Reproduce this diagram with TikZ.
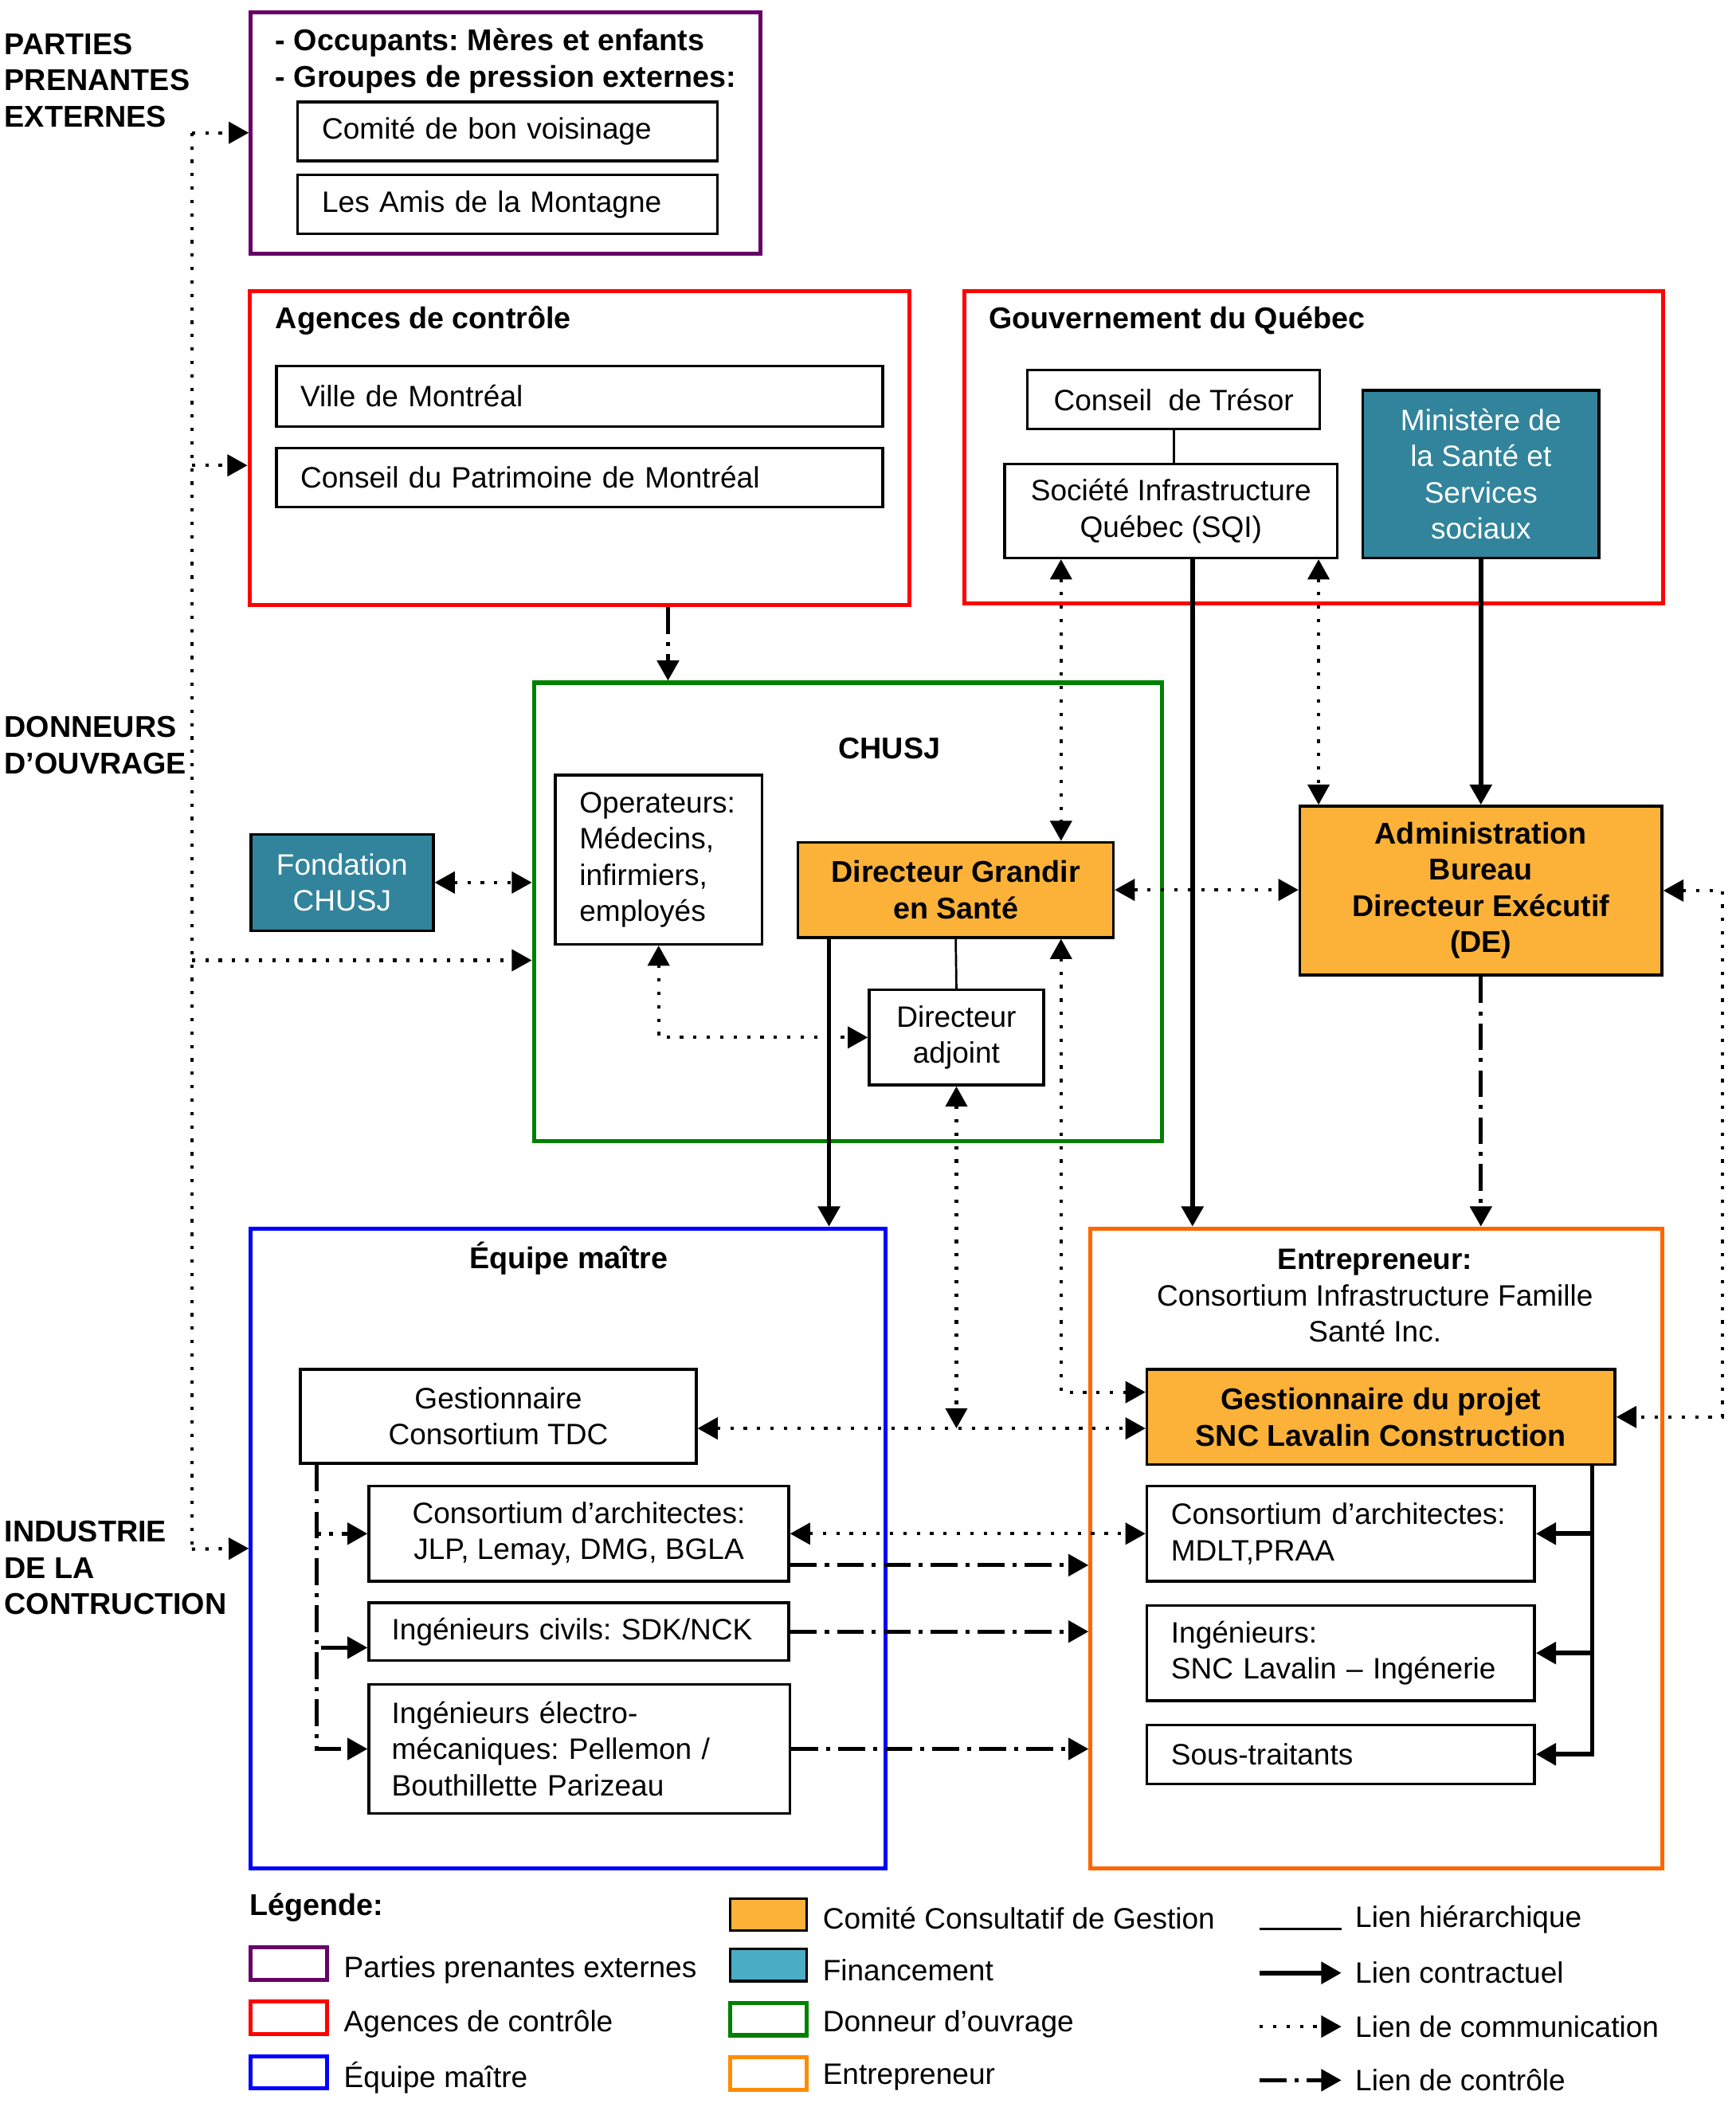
\documentclass[tikz,border=0pt]{standalone}
\usepackage{fontspec}
\setmainfont{Liberation Sans}
\usetikzlibrary{arrows.meta}
\definecolor{ppviolet}{RGB}{102,0,102}
\definecolor{acred}{RGB}{255,0,0}
\definecolor{chgreen}{RGB}{0,128,0}
\definecolor{emblue}{RGB}{0,0,255}
\definecolor{entorange}{RGB}{255,102,0}
\definecolor{lgorange}{RGB}{255,140,0}
\definecolor{ccgorange}{RGB}{252,178,56}
\definecolor{fintealdark}{RGB}{49,132,155}
\definecolor{finteal}{RGB}{75,172,198}
\frenchspacing
\begin{document}
\begin{tikzpicture}[x=0.5pt, y=-0.5pt,
   every node/.style={font=\fontsize{11}{13.5}\selectfont},
   box/.style={draw, line width=1pt, inner sep=0pt, align=center},
   lbox/.style={box, inner xsep=9pt, align=left},
   grp/.style={draw, line width=1.5pt, inner sep=0pt},
   ttl/.style={font=\fontsize{11.2}{13.5}\selectfont\bfseries, align=left, inner sep=0pt},
   ccg/.style={box, fill=ccgorange, font=\fontsize{11.2}{13.5}\selectfont\bfseries},
   fin/.style={box, fill=fintealdark, text=white},
   sw/.style={draw, line width=1.5pt, minimum width=28.5pt, minimum height=12pt, inner sep=0pt},
   hier/.style={line width=0.8pt},
   contr/.style={line width=1.7pt, -{Triangle[length=7.5pt,width=8pt]}},
   comm/.style={line width=1.25pt, dash pattern=on 1.25pt off 3.75pt},
   ctrl/.style={line width=1.5pt, dash pattern=on 10pt off 3pt on 1.5pt off 3pt},
   toarr/.style={-{Triangle[length=7.5pt,width=8pt]}},
   botharr/.style={{Triangle[length=7.5pt,width=8pt]}-{Triangle[length=7.5pt,width=8pt]}}]
   \useasboundingbox (0,0) rectangle (1294,1568);
   % left labels
   \node[ttl, anchor=west] (lblPP) at (3,60) {PARTIES\\PRENANTES\\EXTERNES};
   \node[ttl, anchor=west] (lblDO) at (3,555.5) {DONNEURS\\D’OUVRAGE};
   \node[ttl, anchor=west] (lblIC) at (3,1169) {INDUSTRIE\\DE LA\\CONTRUCTION};
   % parties prenantes
   \node[grp, draw=ppviolet, minimum width=190pt, minimum height=90pt] (pp) at (377,99) {};
   \node[ttl, anchor=west] (ppT) at (205,45.5) {- Occupants: Mères et enfants\\- Groupes de pression externes:};
   \node[lbox, text width=138.5pt, minimum height=22pt] (cbv) at (378.5,98) {Comité de bon voisinage};
   \node[lbox, text width=138.5pt, minimum height=22pt] (lam) at (378.5,152.5) {Les Amis de la Montagne};
   % agences
   \node[grp, draw=acred, minimum width=246pt, minimum height=117pt] (ac) at (432,334) {};
   \node[ttl, anchor=west] (acT) at (205,239) {Agences de contrôle};
   \node[lbox, text width=208pt, minimum height=22.5pt] (vdm) at (432,295.5) {Ville de Montréal};
   \node[lbox, text width=208pt, minimum height=22pt] (cpm) at (432,356) {Conseil du Patrimoine de Montréal};
   % gouvernement
   \node[grp, draw=acred, minimum width=260.5pt, minimum height=116.5pt] (gq) at (979.5,333.5) {};
   \node[ttl, anchor=west] (gqT) at (737,239) {Gouvernement du Québec};
   \node[box, minimum width=109pt, minimum height=22pt] (cdt) at (875,298) {Conseil\ \ de Trésor};
   \node[box, minimum width=124pt, minimum height=35pt] (sqi) at (873,381) {Société Infrastructure\\Québec (SQI)};
   \node[fin, minimum width=88pt, minimum height=62.5pt] (msss) at (1104,353.5) {Ministère de\\la Santé et\\Services\\sociaux};
   % CHUSJ
   \node[grp, draw=chgreen, minimum width=234pt, minimum height=171pt] (chusj) at (632,680) {};
   \node[ttl] (chT) at (663,558) {CHUSJ};
   \node[lbox, text width=59pt, minimum height=63pt] (oper) at (491,641) {Operateurs:\\Médecins,\\infirmiers,\\employés};
   \node[ccg, minimum width=117.5pt, minimum height=35.5pt] (dg) at (712.5,663.5) {Directeur Grandir\\en Santé};
   \node[box, minimum width=65pt, minimum height=35.5pt] (adj) at (713,773.5) {Directeur\\adjoint};
   \node[fin, minimum width=68pt, minimum height=36pt] (fond) at (255,658) {Fondation\\CHUSJ};
   \node[ccg, minimum width=135pt, minimum height=63pt] (de) at (1104,664) {Administration\\Bureau\\Directeur Exécutif\\(DE)};
   % equipe maitre
   \node[grp, draw=emblue, minimum width=236.5pt, minimum height=238.5pt] (em) at (423.5,1154.5) {};
   \node[ttl] (emT) at (424,938) {Équipe maître};
   \node[box, minimum width=147.5pt, minimum height=35pt] (tdc) at (371.5,1056) {Gestionnaire\\Consortium TDC};
   \node[box, minimum width=156.5pt, minimum height=35.5pt] (arch1) at (431.5,1143.5) {Consortium d’architectes:\\JLP, Lemay, DMG, BGLA};
   \node[lbox, inner xsep=8.5pt, text width=139.5pt, minimum height=21.5pt] (civ) at (431.5,1216.5) {Ingénieurs civils: SDK/NCK};
   \node[lbox, inner xsep=8.5pt, text width=140pt, minimum height=48pt] (elec) at (432,1304) {Ingénieurs électro-\\mécaniques: Pellemon /\\Bouthillette Parizeau};
   % entrepreneur
   \node[grp, draw=entorange, minimum width=213pt, minimum height=238.5pt] (ent) at (1026,1154.5) {};
   \node[align=center, inner sep=0pt] (entT) at (1025,966) {\textbf{Entrepreneur:}\\Consortium Infrastructure Famille\\Santé Inc.};
   \node[ccg, minimum width=174.5pt, minimum height=35.5pt] (gp) at (1029.5,1056.5) {Gestionnaire du projet\\SNC Lavalin Construction};
   \node[lbox, text width=126.5pt, minimum height=35.5pt] (arch2) at (999.5,1143.5) {Consortium d’architectes:\\MDLT,PRAA};
   \node[lbox, text width=126.5pt, minimum height=35.5pt] (ing) at (999.5,1232.5) {Ingénieurs:\\SNC Lavalin – Ingénerie};
   \node[lbox, text width=126.5pt, minimum height=22pt] (sous) at (999.5,1308) {Sous-traitants};
   % dotted spine on the left
   \coordinate (spT) at (143,99);
   \coordinate (spA) at (143,347);
   \coordinate (spC) at (143,716);
   \coordinate (spB) at (143,1155);
   \draw[comm] (spT) -- (spB);
   \draw[comm, toarr] (spT) -- (pp.west);
   \draw[comm, toarr] (spA) -- (spA -| ac.west);
   \draw[comm, toarr] (spC) -- (spC -| chusj.west);
   \draw[comm, toarr] (spB) -- (em.west);
   % links
   \draw[ctrl, toarr] ([xshift=33pt]ac.south) -- ([xshift=33pt]ac.south |- chusj.north);
   \draw[hier] (cdt.south) -- (cdt.south |- sqi.north);
   \draw[comm, botharr] ([xshift=-41pt]sqi.south) -- ([xshift=-41pt]sqi.south |- dg.north);
   \draw[comm, botharr] ([xshift=55pt]sqi.south) -- ([xshift=55pt]sqi.south |- de.north);
   \draw[contr] ([xshift=8pt]sqi.south) -- ([xshift=8pt]sqi.south |- ent.north);
   \draw[contr] (msss.south) -- (de.north);
   \draw[comm, botharr] (dg.east) -- (dg.east -| de.west);
   \draw[ctrl, toarr] (de.south) -- (de.south |- ent.north);
   \draw[comm, botharr] (de.east) -- ++(22pt,0) |- (gp.east);
   \draw[hier] (dg.south) -- (adj.north);
   \draw[contr] ([xshift=-47.25pt]dg.south) -- ([xshift=-47.25pt]dg.south |- em.north);
   \draw[comm, botharr] ([xshift=39.25pt]dg.south) |- ([yshift=9.25pt]gp.west);
   \coordinate (tdcE) at ([yshift=-4.5pt]tdc.east);
   \draw[comm, botharr] (tdcE) -- (tdcE -| gp.west);
   \draw[comm, botharr] (adj.south) -- (adj.south |- tdcE);
   \draw[comm, botharr] (oper.south) |- (adj.west);
   \draw[comm, botharr] (fond.east) -- (fond.east -| chusj.west);
   \coordinate (tdcB) at ([xshift=6.5pt]tdc.south west);
   \draw[ctrl, toarr] (tdcB) |- (arch1.west);
   \draw[ctrl, toarr] (tdcB) |- ([yshift=-6pt]civ.west);
   \draw[ctrl, toarr] (tdcB) |- (elec.west);
   \draw[comm, botharr] (arch1.east) -- (arch1.east -| arch2.west);
   \draw[ctrl, toarr] ([yshift=-11.75pt]arch1.east) -- ([yshift=-11.75pt]arch1.east -| ent.west);
   \draw[ctrl, toarr] (civ.east) -- (civ.east -| ent.west);
   \draw[ctrl, toarr] (elec.east) -- (elec.east -| ent.west);
   \coordinate (gpB) at ([xshift=-9pt]gp.south east);
   \draw[contr] (gpB) |- (arch2.east);
   \draw[contr] (gpB) |- (ing.east);
   \draw[contr] (gpB) |- (sous.east);
   % legend
   \node[ttl, anchor=west] (lgT) at (186,1422) {Légende:};
   \node[sw, draw=ppviolet] (sw1) at (215.5,1464) {};
   \node[sw, draw=acred] (sw2) at (215.5,1504.5) {};
   \node[sw, draw=emblue] (sw3) at (215.5,1545) {};
   \node[anchor=west, inner sep=0pt] (lt1) at (256,1469) {Parties prenantes externes};
   \node[anchor=west, inner sep=0pt] (lt2) at (256,1509) {Agences de contrôle};
   \node[anchor=west, inner sep=0pt] (lt3) at (256,1549) {Équipe maître};
   \node[sw, draw=black, line width=1pt, fill=ccgorange] (sw4) at (573,1427.5) {};
   \node[sw, draw=black, line width=1pt, fill=finteal] (sw5) at (573,1465) {};
   \node[sw, draw=chgreen] (sw6) at (573,1505.5) {};
   \node[sw, draw=lgorange] (sw7) at (573,1546) {};
   \node[anchor=west, inner sep=0pt] (lt4) at (613,1430) {Comité Consultatif de Gestion};
   \node[anchor=west, inner sep=0pt] (lt5) at (613,1469) {Financement};
   \node[anchor=west, inner sep=0pt] (lt6) at (613,1509) {Donneur d’ouvrage};
   \node[anchor=west, inner sep=0pt] (lt7) at (613,1549) {Entrepreneur};
   \coordinate (la1) at (939,1438);
   \coordinate (lb1) at (1000,1438);
   \coordinate (la2) at (939,1471);
   \coordinate (lb2) at (1000,1471);
   \coordinate (la3) at (939,1511);
   \coordinate (lb3) at (1000,1511);
   \coordinate (la4) at (939,1551);
   \coordinate (lb4) at (1000,1551);
   \draw[hier] (la1) -- (lb1);
   \draw[contr] (la2) -- (lb2);
   \draw[comm, toarr] (la3) -- (lb3);
   \draw[ctrl, toarr] (la4) -- (lb4);
   \node[anchor=west, inner sep=0pt] (lt8) at (1010,1431) {Lien hiérarchique};
   \node[anchor=west, inner sep=0pt] (lt9) at (1010,1471) {Lien contractuel};
   \node[anchor=west, inner sep=0pt] (lt10) at (1010,1511) {Lien de communication};
   \node[anchor=west, inner sep=0pt] (lt11) at (1010,1551) {Lien de contrôle};
\end{tikzpicture}
\end{document}
